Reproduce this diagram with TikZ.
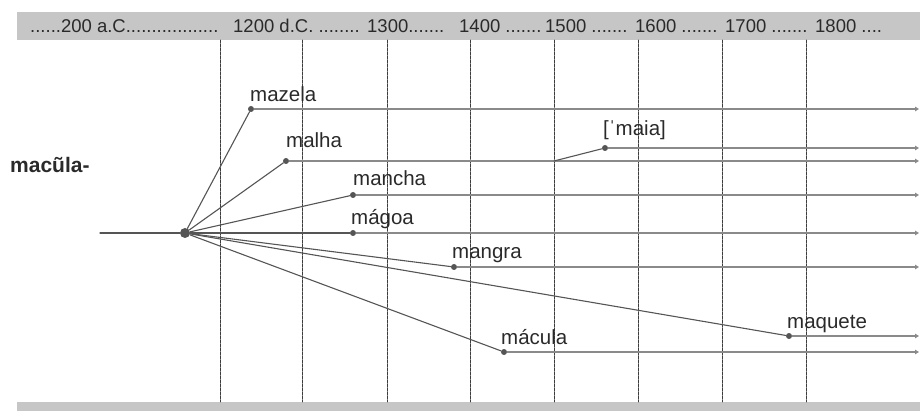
\documentclass[tikz,border=0pt]{standalone}
\usepackage{fontspec}
\setmainfont{Liberation Sans}
\usetikzlibrary{arrows.meta}
\definecolor{bandgray}{HTML}{C6C6C6}
\definecolor{gridgray}{HTML}{3C3C3C}
\definecolor{linegray}{HTML}{555555}
\definecolor{rungray}{HTML}{8A8A8A}
\definecolor{inkgray}{HTML}{2A2A2A}

\begin{document}
\begin{tikzpicture}[line cap=round,line join=round,x=1pt,y=-1pt,
  wdot/.style={circle,fill=linegray,inner sep=0pt,minimum size=6pt},
  hubdot/.style={circle,fill=linegray,inner sep=0pt,minimum size=10pt},
  word/.style={anchor=base west,inner sep=0pt,text=inkgray,font=\fontsize{20.5}{24}\selectfont},
  yr/.style={anchor=base west,inner sep=0pt,text=inkgray,font=\fontsize{18.5}{22}\selectfont},
  grid/.style={gridgray,line width=0.9pt,dash pattern=on 3pt off 1pt},
  run/.style={rungray,line width=1.3pt,-{Triangle[length=4pt,width=4.5pt]}},
  link/.style={linegray,line width=1.1pt}]
\useasboundingbox (0,0) rectangle (920,411);
% bands
\fill [bandgray] (17,12) rectangle (920,40);
\fill [bandgray] (17,402) rectangle (920,411);
\node[yr] (y0) at (30,33) {......200 a.C..................};
\node[yr] (y1) at (233,33) {1200 d.C. ........};
\node[yr] (y2) at (367,33) {1300.......};
\foreach \yr/\x in {1400/459,1500/545,1600/635,1700/725}
  \node[yr] (y\yr) at (\x,33) {\yr\ .......};
\node[yr] (y1800) at (815,33) {1800 ....};
% century lines
\foreach \x in {220,302,387,470,554,638,722,806}
  \draw [grid] (\x,40) -- (\x,402);
\node[font=\fontsize{21}{24}\selectfont\bfseries,text=inkgray,anchor=base west,inner sep=0pt] (root) at (10,173) {macũla-};
% points
\coordinate (start) at (100,233);
\coordinate (rim) at (919,0);
\node[hubdot] (hub) at (185,233) {};
\node[wdot] (mazela) at (251,109) {};
\node[wdot] (malha) at (286,161) {};
\node[wdot] (mancha) at (353,195) {};
\node[wdot] (magoa) at (353,233) {};
\node[wdot] (mangra) at (454,267) {};
\node[wdot] (macula) at (504,352) {};
\node[wdot] (maquete) at (789,336) {};
\node[wdot] (maia) at (605,148) {};
\coordinate (fork) at (554,161);
% runs to the right
\foreach \w in {mazela,malha,mancha,magoa,mangra,macula,maquete,maia}
  \draw [run] (\w) -- (\w -| rim);
% links from the root
\draw [link] (start) -- (hub);
\foreach \w in {mazela,malha,mancha,magoa,mangra,macula,maquete}
  \draw [link] (hub) -- (\w);
\draw [link] (fork) -- (maia);
% words
\node[word] (lmazela) at (250,102) {mazela};
\node[word] (lmalha) at (286,148) {malha};
\node[word] (lmancha) at (353,186) {mancha};
\node[word] (lmagoa) at (351,225) {mágoa};
\node[word] (lmangra) at (452,259) {mangra};
\node[word] (lmacula) at (501,344) {mácula};
\node[word] (lmaquete) at (787,328) {maquete};
\node[word] (lmaia) at (603,136) {[ˈmaia]};
\end{tikzpicture}
\end{document}
